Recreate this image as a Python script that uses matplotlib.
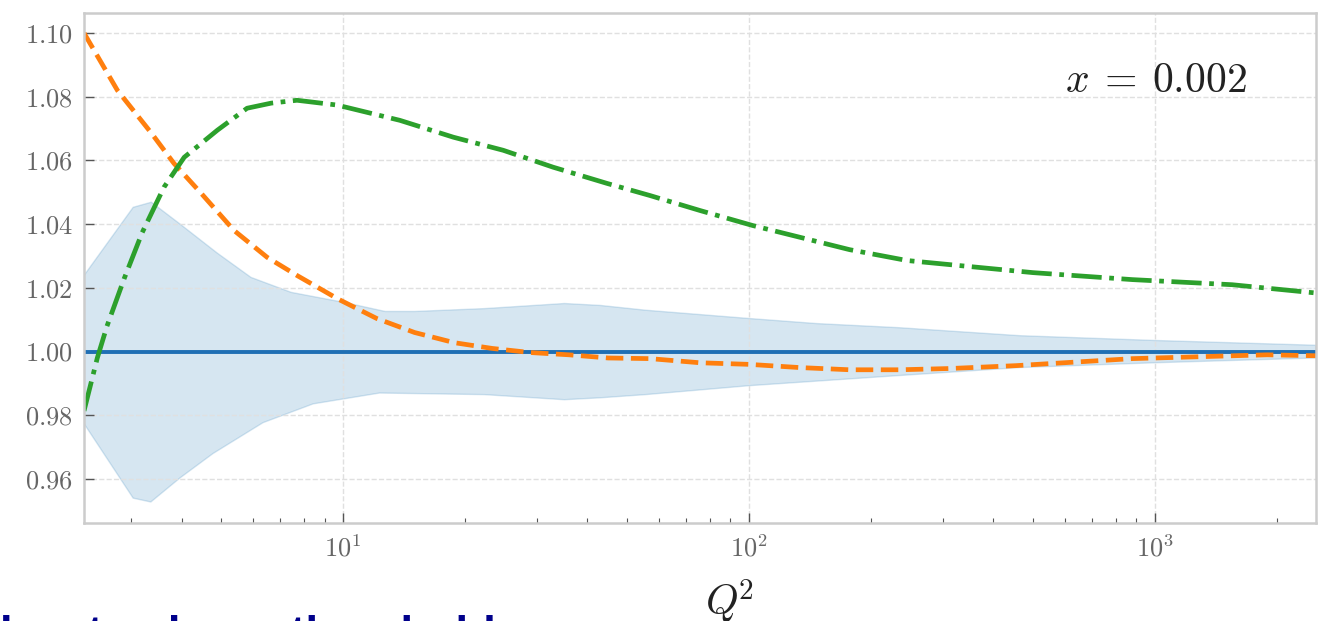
import numpy as np
import matplotlib
matplotlib.use("Agg")
import matplotlib.pyplot as plt

# ratio to central value vs Q^2 at x = 0.002
q2_hi = [2.30, 3.04, 3.37, 3.97, 4.89, 5.93, 7.45, 10.1, 12.7, 15.0,
         22.3, 35.1, 43.0, 55.6, 100, 147, 235, 465, 1000, 2493]
band_hi = [1.0239, 1.0453, 1.0469, 1.040, 1.031, 1.0233, 1.0186, 1.0154, 1.0126, 1.0126,
           1.0135, 1.0151, 1.0145, 1.013, 1.0104, 1.0088, 1.0075, 1.005, 1.0035, 1.002]
q2_lo = [2.30, 3.04, 3.36, 3.97, 4.78, 6.35, 8.44, 12.3, 22.3, 35.1,
         43.0, 55.6, 100, 235, 465, 1000, 2493]
band_lo = [0.9774, 0.954, 0.9528, 0.9604, 0.968, 0.9777, 0.9836, 0.987, 0.9865, 0.9849,
           0.9855, 0.9865, 0.9893, 0.9925, 0.995, 0.9965, 0.998]

q2_orange = [2.30, 2.78, 3.37, 3.83, 4.47, 5.39, 6.50, 7.70, 9.72, 12.1, 15.0, 18.8,
             23.3, 29.0, 36.0, 45.0, 57.0, 75.7, 100, 133, 177, 235, 313, 455, 880,
             1890, 2493]
r_orange = [1.100, 1.082, 1.0686, 1.0591, 1.0497, 1.038, 1.0296, 1.0239, 1.0165, 1.0104,
            1.006, 1.0028, 1.001, 0.9997, 0.999, 0.998, 0.9978, 0.9965, 0.996, 0.995,
            0.9943, 0.9943, 0.9947, 0.9956, 0.9978, 0.999, 0.9987]

q2_green = [2.30, 2.48, 2.62, 2.89, 3.20, 3.62, 4.06, 4.90, 5.80, 6.65, 7.70, 9.66,
            13.8, 18.7, 24.8, 32.9, 44.7, 57.0, 75.7, 102, 177, 245, 500, 880, 1550, 2493]
r_green = [0.9814, 0.998, 1.008, 1.023, 1.0374, 1.0516, 1.061, 1.0695, 1.0764, 1.078,
           1.0789, 1.0774, 1.0726, 1.0673, 1.0632, 1.0579, 1.0528, 1.049, 1.0443, 1.0396,
           1.032, 1.0286, 1.0248, 1.0226, 1.021, 1.0184]

plt.rcParams['font.family'] = 'cmr10'
plt.rcParams['mathtext.fontset'] = 'cm'
plt.rcParams['axes.formatter.use_mathtext'] = True

fig = plt.figure(figsize=(13.19, 6.21), dpi=100)
ax = fig.add_axes([0.0637, 0.1578, 0.934, 0.8213])

# uncertainty band as a closed polygon (upper edge out, lower edge back)
band_x = np.concatenate([q2_hi, q2_lo[::-1]])
band_y = np.concatenate([band_hi, band_lo[::-1]])
ax.fill(band_x, band_y, facecolor='#1f77b4', alpha=0.18, edgecolor='#1f77b4', linewidth=1.0)

ax.axhline(1.0, color='#1f6fb4', linewidth=2.8)
ax.plot(q2_orange, r_orange, color='#ff7f0e', linestyle='--', linewidth=3.4)
ax.plot(q2_green, r_green, color='#2ca02c', linestyle='-.', linewidth=3.4)

ax.set_xscale('log')
ax.set_xlim(2.30, 2493)
ax.set_ylim(0.9462, 1.1063)
ax.set_yticks(np.arange(0.96, 1.101, 0.02))

ax.grid(True, which='major', linestyle='--', color='#e0e0e0', linewidth=1.0)
for s in ax.spines.values():
    s.set_color('#cccccc')
    s.set_linewidth(1.8)

ax.tick_params(which='both', direction='in', colors='#555555', labelcolor='#666666',
               labelsize=19, top=False, right=False)
ax.tick_params(which='major', length=7, width=1.0, pad=8)
ax.tick_params(which='minor', length=3.5, width=0.8)

ax.text(0.944, 0.845, r'$x\:=\:0.002$', transform=ax.transAxes, ha='right',
        va='baseline', fontsize=30, color='#222222')

ax.set_xlabel(r'$Q^{\!2}$', fontsize=30, color='#222222')
ax.xaxis.set_label_coords(0.524, -0.108)

fig.text(0.0, -0.042, 'low to charm threshold', family=['Liberation Sans', 'DejaVu Sans'],
         fontweight='bold', fontsize=32.5, color='#00008b', ha='left', va='baseline')

fig.savefig('out.png', dpi=100)
